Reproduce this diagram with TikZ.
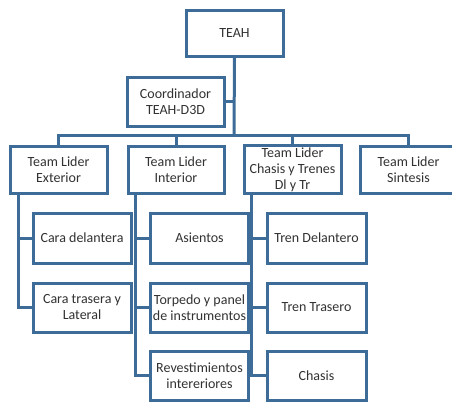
\documentclass[tikz,border=0pt]{standalone}
\usepackage{fontspec}
\setmainfont{Carlito}
\definecolor{boxline}{RGB}{62,108,152}
\definecolor{boxtext}{RGB}{50,50,50}
\begin{document}
\begin{tikzpicture}[x=1pt,y=-1pt,
  orgbox/.style={draw=boxline, line width=3pt, fill=white, rectangle,
    inner sep=0pt, align=center, text=boxtext,
    font=\fontsize{14}{16}\selectfont,
    minimum width=97pt, minimum height=48pt},
  link/.style={draw=boxline, line width=3pt}]
\useasboundingbox (0,0) rectangle (452,402);
\fill[white] (0,0) rectangle (452,402);

% connector anchor points (drawn first, boxes sit on top)
\coordinate (bus) at (234,135);

% top of the chart
\node[orgbox, minimum height=46pt] (teah) at (234.5,33) {TEAH};
\node[orgbox, minimum height=49pt] (coord) at (175.5,101.5) {Coordinador\\TEAH-D3D};

% team leaders
\node[orgbox, minimum height=47pt] (ext) at (58.5,169.5) {Team Lider\\Exterior};
\node[orgbox, minimum height=47pt, minimum width=96pt] (int) at (176,169.5) {Team Lider\\Interior};
\node[orgbox, minimum height=48pt] (chas) at (292.5,169.5) {Team Lider\\Chasis y Trenes\\Dl y Tr};
\node[orgbox, minimum height=47pt] (sint) at (408.5,169.5) {Team Lider\\Sintesis};

% exterior group
\node[orgbox, minimum width=98pt, minimum height=50pt] (cd) at (82,238) {Cara delantera};
\node[orgbox, minimum width=98pt, minimum height=49pt] (ct) at (82,307.5) {Cara trasera y\\Lateral};

% interior group
\node[orgbox, minimum width=98pt, minimum height=50pt] (asi) at (199.5,238) {Asientos};
\node[orgbox, minimum width=98pt, minimum height=49pt] (tor) at (199.5,307.5) {Torpedo y panel\\de instrumentos};
\node[orgbox, minimum width=98pt, minimum height=49pt] (rev) at (199.5,375.5) {Revestimientos\\intereriores};

% chassis group
\node[orgbox, minimum width=99pt, minimum height=50pt] (td) at (316.5,238) {Tren Delantero};
\node[orgbox, minimum width=99pt, minimum height=49pt] (tt) at (316.5,307.5) {Tren Trasero};
\node[orgbox, minimum width=99pt, minimum height=49pt] (cha) at (316.5,375.5) {Chasis};

% connectors
\draw[link] (teah.south) -- (bus);
\draw[link] (coord.east) -- (coord.east -| bus);
\draw[link] (ext.north) |- (bus) -| (sint.north);
\draw[link] (int.north) |- (bus);
\draw[link] (chas.north) |- (bus);

\draw[link] ([xshift=10pt]ext.south west) |- (cd.west);
\draw[link] ([xshift=10pt]ext.south west) |- (ct.west);

\draw[link] ([xshift=9pt]int.south west) |- (asi.west);
\draw[link] ([xshift=9pt]int.south west) |- (tor.west);
\draw[link] ([xshift=9pt]int.south west) |- (rev.west);

\draw[link] ([xshift=9pt]chas.south west) |- (td.west);
\draw[link] ([xshift=9pt]chas.south west) |- (tt.west);
\draw[link] ([xshift=9pt]chas.south west) |- (cha.west);
\end{tikzpicture}
\end{document}
